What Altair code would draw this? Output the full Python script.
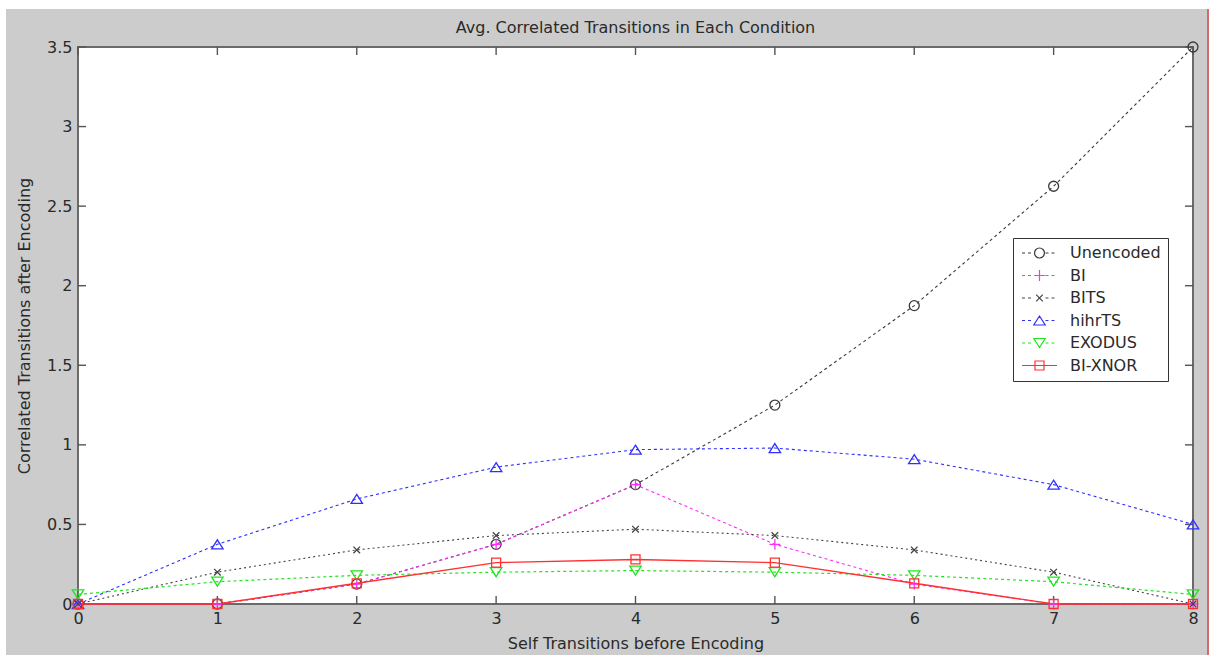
import altair as alt
import pandas as pd

# Self transitions before encoding (x) and correlated transitions after encoding (y)
x_vals = [0, 1, 2, 3, 4, 5, 6, 7, 8]
unencoded = [0, 0, 0.125, 0.375, 0.75, 1.25, 1.875, 2.625, 3.5]
bi = [0, 0, 0.125, 0.375, 0.75, 0.375, 0.125, 0, 0]
bits = [0, 0.2, 0.34, 0.43, 0.47, 0.43, 0.34, 0.2, 0]
hihrts = [0, 0.375, 0.66, 0.86, 0.97, 0.98, 0.91, 0.75, 0.5]
exodus = [0.06, 0.14, 0.18, 0.2, 0.21, 0.2, 0.18, 0.14, 0.06]
bixnor = [0, 0, 0.13, 0.26, 0.28, 0.26, 0.13, 0, 0]

series_names = ["Unencoded", "BI", "BITS", "hihrTS", "EXODUS", "BI-XNOR"]
series_values = [unencoded, bi, bits, hihrts, exodus, bixnor]

x_ticks = [0, 1, 2, 3, 4, 5, 6, 7, 8]
y_ticks = [0, 0.5, 1, 1.5, 2, 2.5, 3, 3.5]

title_text = "Avg. Correlated Transitions in Each Condition"
x_title = "Self Transitions before Encoding"
y_title = "Correlated Transitions after Encoding"

# ---- styling -------------------------------------------------------------
W, H = 1115, 557
FONT = "DejaVu Sans"
TEXT = "#2a2a2a"
colors = ["#3a3a3a", "#ff2cff", "#444444", "#2f2fff", "#1ee61e", "#ff3030"]
dashes = [[3, 3], [3, 3], [2, 3], [3, 3], [3, 3], []]
line_widths = [1.1, 1.1, 1.1, 1.1, 1.2, 1.4]


def fmt(v):
    return f"{v:.3f}".rstrip("0").rstrip(".")


# marker outlines, in symbol units (one unit = sqrt(size) / 2 pixels)
def circle(cx, r=0.83):
    return (f"M{fmt(cx + r)},0A{fmt(r)},{fmt(r)} 0 1,1 {fmt(cx - r)},0"
            f"A{fmt(r)},{fmt(r)} 0 1,1 {fmt(cx + r)},0Z")


def plus(cx, r=0.9):
    return f"M{fmt(cx - r)},0L{fmt(cx + r)},0M{fmt(cx)},{fmt(-r)}L{fmt(cx)},{fmt(r)}"


def xmark(cx, r=0.55):
    return (f"M{fmt(cx - r)},{fmt(-r)}L{fmt(cx + r)},{fmt(r)}"
            f"M{fmt(cx - r)},{fmt(r)}L{fmt(cx + r)},{fmt(-r)}")


def tri_up(cx, w=0.95, h=0.75):
    return f"M{fmt(cx)},{fmt(-h)}L{fmt(cx + w)},{fmt(h)}L{fmt(cx - w)},{fmt(h)}Z"


def tri_down(cx, w=0.95, h=0.75):
    return f"M{fmt(cx)},{fmt(h)}L{fmt(cx + w)},{fmt(-h)}L{fmt(cx - w)},{fmt(-h)}Z"


def square(cx, r=0.75):
    return (f"M{fmt(cx - r)},{fmt(-r)}L{fmt(cx + r)},{fmt(-r)}"
            f"L{fmt(cx + r)},{fmt(r)}L{fmt(cx - r)},{fmt(r)}Z")


marker_fns = [circle, plus, xmark, tri_up, tri_down, square]
MARKER_SIZE = 144  # 6 px per unit

# legend sample: a short line with the marker in its middle
L0, L1 = -1.0, 4.83
LC = (L0 + L1) / 2


def legend_line(dashed):
    if not dashed:
        return f"M{fmt(L0)},0L{fmt(L1)},0"
    segs = []
    dash, gap = 0.5, 0.5
    for a, b in [(L0, LC - 1.0), (LC + 1.0, L1)]:
        p = a
        while p < b - 0.05:
            q = min(p + dash, b)
            segs.append(f"M{fmt(p)},0L{fmt(q)},0")
            p = q + gap
    return "".join(segs)


legend_shapes = [legend_line(len(d) > 0) + fn(LC) for d, fn in zip(dashes, marker_fns)]

rows = []
for name, vals in zip(series_names, series_values):
    for xv, yv in zip(x_vals, vals):
        rows.append({"x": xv, "y": yv, "series": name})
df = pd.DataFrame(rows)

x_scale = alt.Scale(domain=[0, 8], nice=False, zero=False)
y_scale = alt.Scale(domain=[0, 3.5], nice=False, zero=False)

x_axis = alt.Axis(values=x_ticks, ticks=False, domain=False, grid=False, format="~g",
                  labelFont=FONT, labelFontSize=16, labelColor=TEXT, labelPadding=6,
                  labelFlush=False, labelOverlap=False,
                  title=x_title, titleFont=FONT, titleFontSize=16, titleFontWeight="normal",
                  titleColor=TEXT, titlePadding=9, zindex=2)
y_axis = alt.Axis(values=y_ticks, ticks=False, domain=False, grid=False, format="~g",
                  labelFont=FONT, labelFontSize=16, labelColor=TEXT, labelPadding=6,
                  labelFlush=False, labelOverlap=False,
                  title=y_title, titleFont=FONT, titleFontSize=16, titleFontWeight="normal",
                  titleColor=TEXT, titlePadding=14, zindex=2)

one = pd.DataFrame({"k": [0]})

# figure panel (grey), the white axes area and the frame
panel = alt.Chart(one).mark_rect(color="#cccccc").encode(
    x=alt.value(-72), x2=alt.value(1129), y=alt.value(-38), y2=alt.value(H + 51))
edge = alt.Chart(one).mark_rule(color="#d66a6a", strokeWidth=2).encode(
    x=alt.value(1130), y=alt.value(-38), y2=alt.value(H + 51))
axes_bg = alt.Chart(one).mark_rect(color="white").encode(
    x=alt.value(0), x2=alt.value(W), y=alt.value(0), y2=alt.value(H))
frame = alt.Chart(one).mark_rect(fillOpacity=0, stroke="#6a6a6a", strokeWidth=2).encode(
    x=alt.value(0), x2=alt.value(W), y=alt.value(0), y2=alt.value(H))

title = alt.Chart(one).mark_text(font=FONT, fontSize=16, color=TEXT, baseline="middle",
                                 align="center").encode(
    x=alt.value(W / 2), y=alt.value(-19), text=alt.value(title_text))

# inward tick marks on all four sides
xt = pd.DataFrame({"x": x_ticks})
yt = pd.DataFrame({"y": y_ticks})
tick_style = dict(color="#555555", strokeWidth=1.4)
ticks = [
    alt.Chart(xt).mark_rule(**tick_style).encode(
        x=alt.X("x:Q", scale=x_scale, axis=x_axis), y=alt.value(H - 8), y2=alt.value(H)),
    alt.Chart(xt).mark_rule(**tick_style).encode(
        x=alt.X("x:Q", scale=x_scale), y=alt.value(0), y2=alt.value(8)),
    alt.Chart(yt).mark_rule(**tick_style).encode(
        y=alt.Y("y:Q", scale=y_scale, axis=y_axis), x=alt.value(0), x2=alt.value(8)),
    alt.Chart(yt).mark_rule(**tick_style).encode(
        y=alt.Y("y:Q", scale=y_scale), x=alt.value(W - 8), x2=alt.value(W)),
]

base = alt.Chart(df)
enc = dict(x=alt.X("x:Q", scale=x_scale), y=alt.Y("y:Q", scale=y_scale))

line_layers = []
point_layers = []
for name, col, dash, lw, fn in zip(series_names, colors, dashes, line_widths, marker_fns):
    sel = base.transform_filter(alt.datum.series == name)
    line_kwargs = dict(color=col, strokeWidth=lw)
    if dash:
        line_kwargs["strokeDash"] = dash
    line_layers.append(sel.mark_line(**line_kwargs).encode(**enc))
    point_layers.append(sel.mark_point(shape=fn(0), size=MARKER_SIZE, filled=False,
                                       color=col, strokeWidth=1.3, opacity=1).encode(**enc))

# legend: built from the series scale, drawn with line-and-marker samples
legend_props = dict(orient="none", legendX=935, legendY=191, title=None,
                    fillColor="white", strokeColor="#333333", padding=7,
                    labelFont=FONT, labelFontSize=16, labelColor=TEXT, labelOffset=34,
                    symbolSize=MARKER_SIZE, symbolStrokeWidth=1.2, symbolOpacity=1,
                    rowPadding=6.5)
legend_layer = base.transform_filter("datum.x < 0").mark_point(filled=False).encode(
    x=alt.X("x:Q", scale=x_scale), y=alt.Y("y:Q", scale=y_scale),
    color=alt.Color("series:N", scale=alt.Scale(domain=series_names, range=colors),
                    legend=alt.Legend(**legend_props)),
    shape=alt.Shape("series:N", scale=alt.Scale(domain=series_names, range=legend_shapes),
                    legend=alt.Legend(**legend_props)),
)

chart = alt.layer(
    panel, edge, axes_bg, frame, *ticks, *line_layers, *point_layers, legend_layer, title
).properties(
    width=W, height=H,
    autosize=alt.AutoSizeParams(type="none"),
    padding={"left": 78, "top": 47, "right": 22, "bottom": 51},
    background="white",
).configure_view(strokeWidth=0)

chart.save("out.html", embed_options={"renderer": "svg", "actions": False})
